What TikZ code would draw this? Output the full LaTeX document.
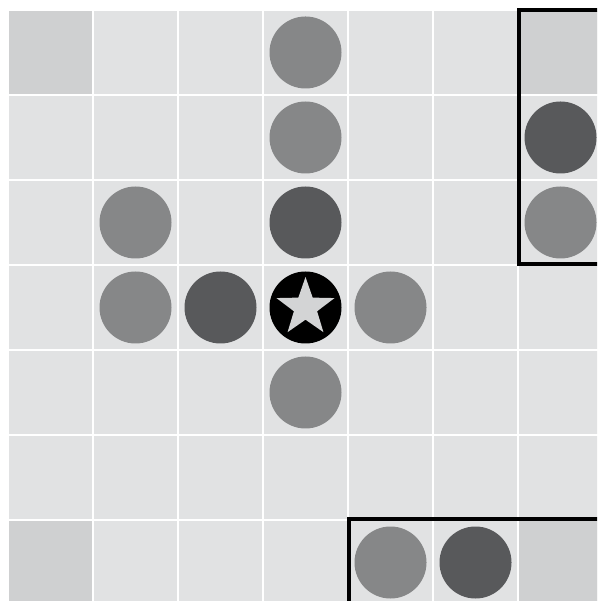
\documentclass[tikz,border=0pt]{standalone}
\usetikzlibrary{shapes.geometric}
\definecolor{cellbg}{HTML}{E1E2E3}
\definecolor{corner}{HTML}{CFD0D1}
\definecolor{light}{HTML}{868788}
\definecolor{dark}{HTML}{58595B}
\definecolor{starfill}{HTML}{D3D4D5}

\begin{document}
\begin{tikzpicture}[
  cell/.style={fill=cellbg,draw=none},
  cornercell/.style={fill=corner,draw=none},
  stone/.style={circle,inner sep=0pt,minimum size=0.72cm,draw=none},
  frame/.style={draw=black,line width=1pt}]

\useasboundingbox (0,0) rectangle (5.97,6.01);
\begin{scope}
\clip (0,0) rectangle (5.97,6.01);

%% board: 7x7 cells, cell 0.85, top left at (0.08,5.91)
\fill[white] (0,0) rectangle (5.97,6.01);
\foreach \c in {0,...,6}
  \foreach \r in {0,...,6}
    \fill[cell] ({0.09+0.85*\c},{5.90-0.85*\r}) rectangle ++(0.83,-0.83);
\foreach \c/\r in {0/0,6/0,0/6,6/6}
  \fill[cornercell] ({0.09+0.85*\c},{5.90-0.85*\r}) rectangle ++(0.83,-0.83);

%% stones
\foreach \c/\r/\col in {3/0/light,3/1/light,6/1/dark,1/2/light,3/2/dark,6/2/light,
                        1/3/light,2/3/dark,4/3/light,3/4/light,4/6/light,5/6/dark}
  \node[stone,fill=\col] (s\c\r) at ({0.505+0.85*\c},{5.485-0.85*\r}) {};

%% centre with the star
\node[stone,fill=black] (s33) at (3.055,2.935) {};
\node[star,star points=5,star point ratio=2.5,fill=starfill,inner sep=0pt,
  minimum size=0.61cm] (mark) at (s33) {};

%% frames
\draw[frame] (5.19,5.91) rectangle (6.20,3.37);
\draw[frame] (3.49,0.82) rectangle (6.20,-0.20);
\end{scope}
\end{tikzpicture}
\end{document}
